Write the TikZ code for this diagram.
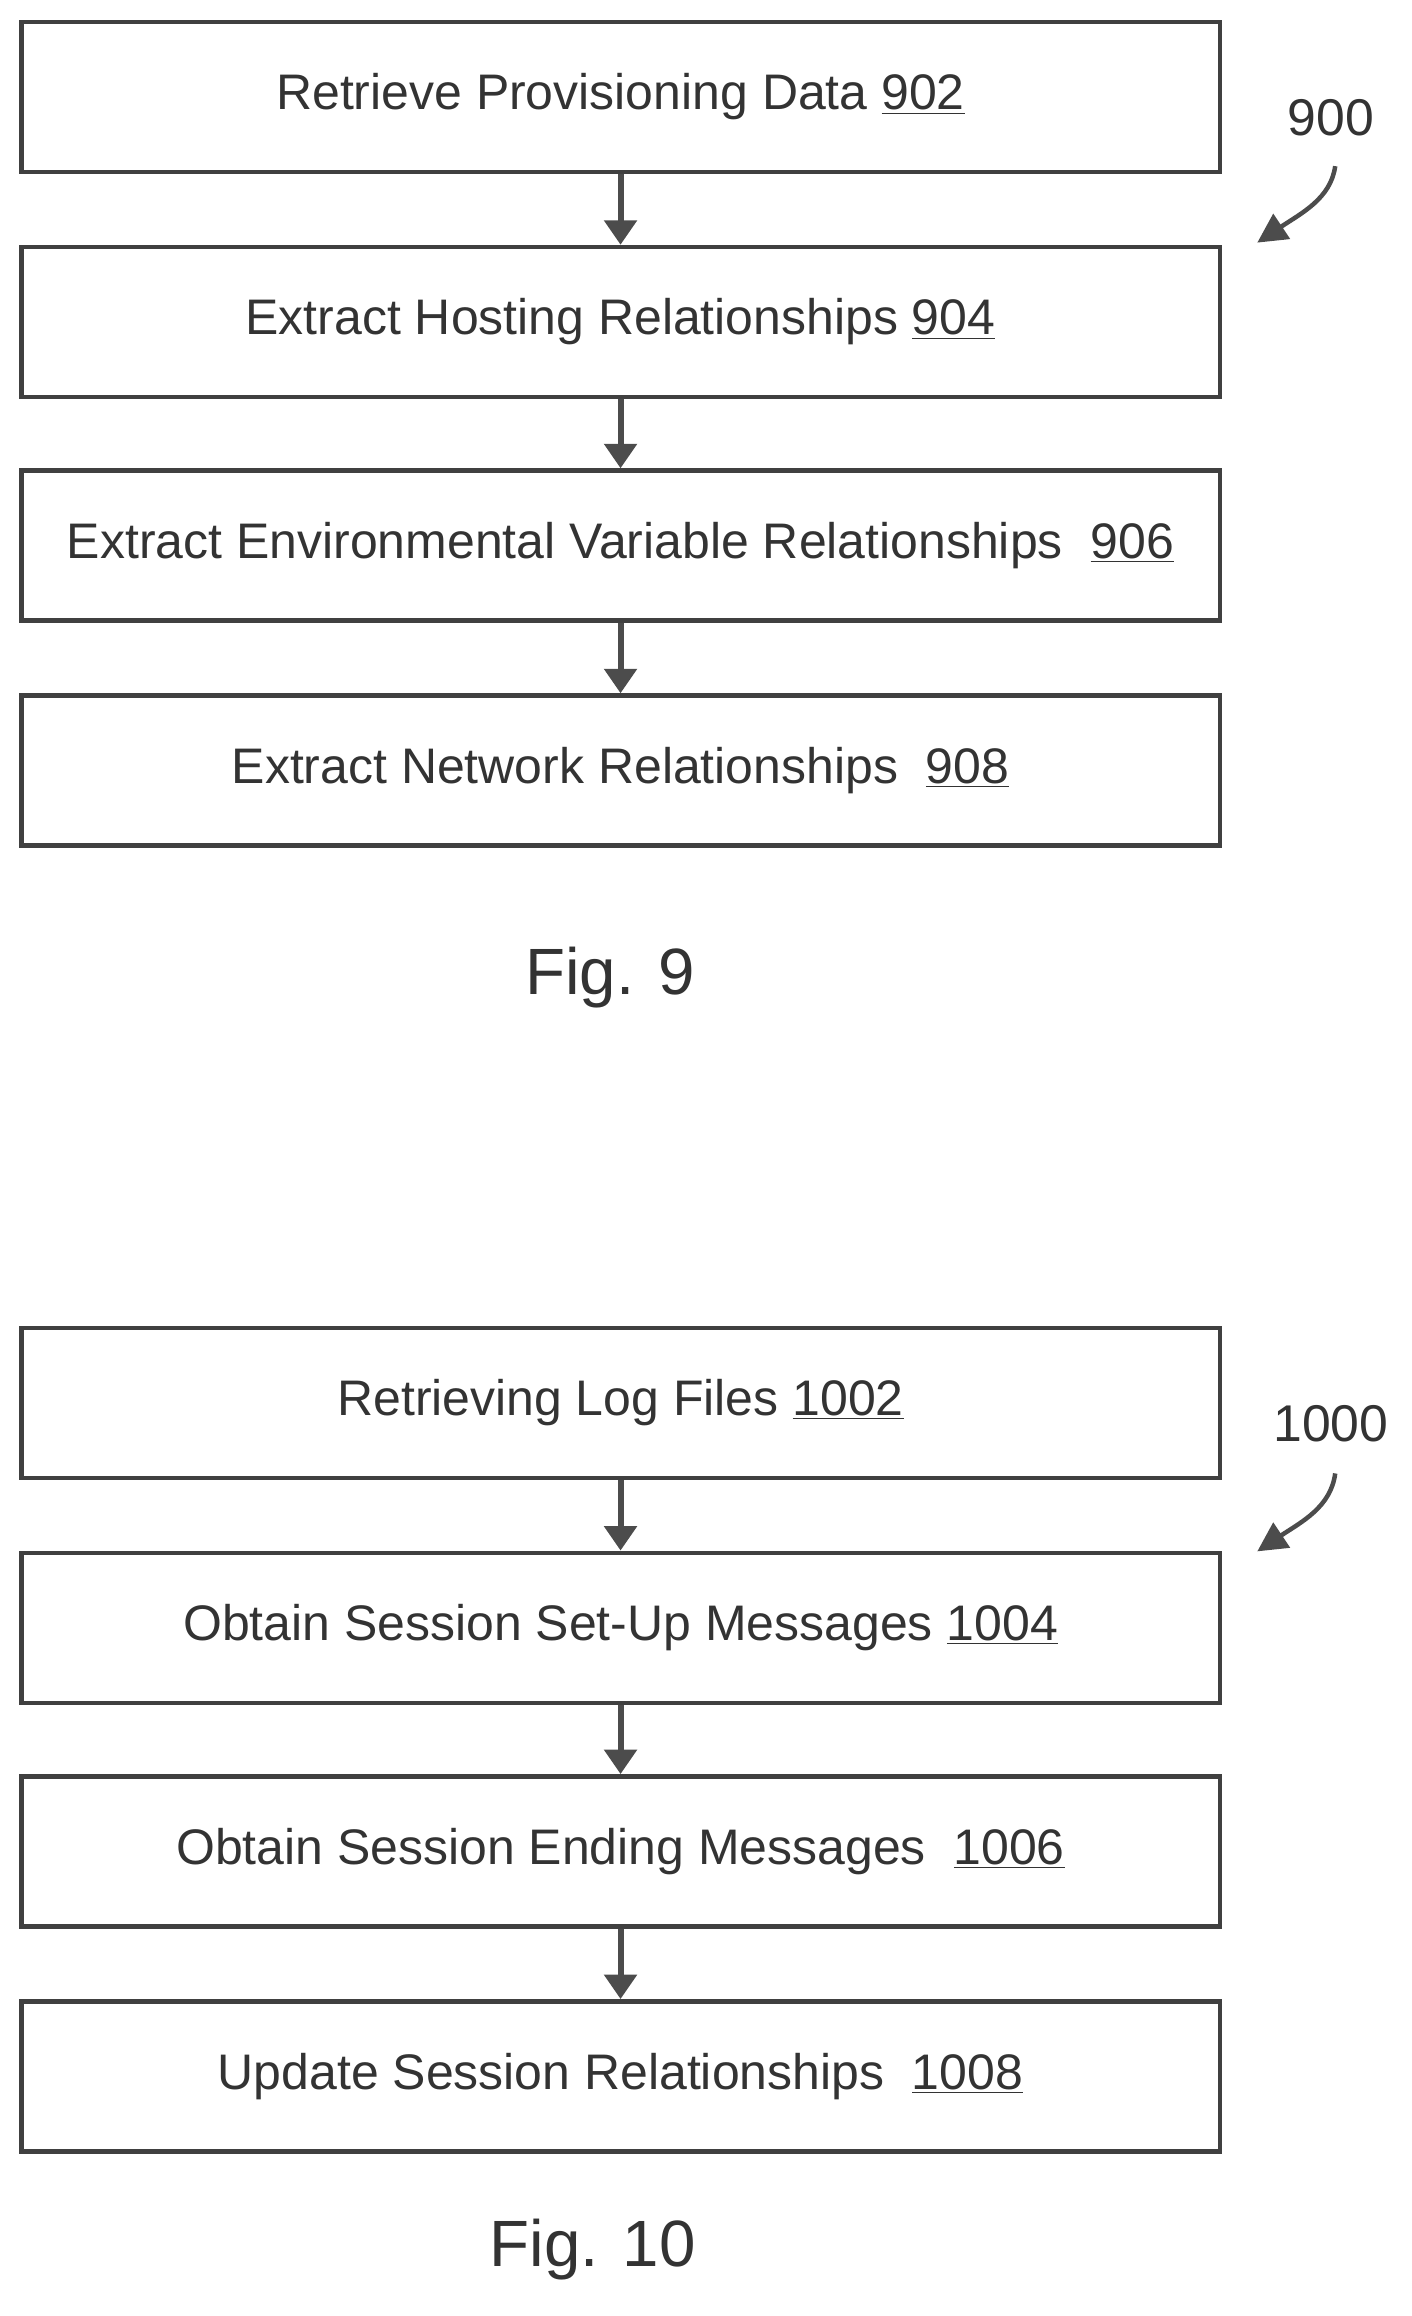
\documentclass[tikz,border=0pt]{standalone}
\usepackage{fontspec}
\setmainfont{Liberation Sans}
\usetikzlibrary{arrows.meta}
\begin{document}
\begin{tikzpicture}[x=0.03cm, y=-0.03cm,
    stage/.style = {draw=black!75, line width=2.6pt, minimum width=24.45cm, minimum height=3.06cm, font=\fontsize{29}{34}\selectfont, text=black!80},
    flow/.style = {line width=3.5pt, draw=black!70, -{Triangle[length=0.5cm,width=0.65cm]}},
    refarrow/.style = {line width=2.6pt, draw=black!70, -{Triangle[length=0.6cm,width=0.6cm]}},
    caption/.style = {font=\fontsize{38}{44}\selectfont, text=black!80},
    ref/.style = {font=\fontsize{30}{36}\selectfont, text=black!80}]
  \useasboundingbox (0,0) rectangle (960,1575);
  % Fig. 9
  \node[stage] (s902) at (422,66) {Retrieve Provisioning Data \underline{902}};
  \node[stage] (s904) at (422,219) {Extract Hosting Relationships \underline{904}};
  \node[stage] (s906) at (422,371) {Extract Environmental Variable Relationships\ \ \underline{906}};
  \node[stage] (s908) at (422,524) {Extract Network Relationships\ \ \underline{908}};
  \draw[flow] (s902) -- (s904);
  \draw[flow] (s904) -- (s906);
  \draw[flow] (s906) -- (s908);
  \node[caption] (fig9) at (415,665) {Fig. 9};
  \node[ref] (l900) at (905,80) {900};
  \coordinate (t900) at (855,165);
  \draw[refarrow] (908,113) .. controls (905,135) and (885,145) .. (t900);
  % Fig. 10
  \node[stage] (s1002) at (422,954) {Retrieving Log Files \underline{1002}};
  \node[stage] (s1004) at (422,1107) {Obtain Session Set-Up Messages \underline{1004}};
  \node[stage] (s1006) at (422,1259) {Obtain Session Ending Messages\ \ \underline{1006}};
  \node[stage] (s1008) at (422,1412) {Update Session Relationships\ \ \underline{1008}};
  \draw[flow] (s1002) -- (s1004);
  \draw[flow] (s1004) -- (s1006);
  \draw[flow] (s1006) -- (s1008);
  \node[caption] (fig10) at (403,1530) {Fig. 10};
  \node[ref] (l1000) at (905,968) {1000};
  \coordinate (t1000) at (855,1055);
  \draw[refarrow] (908,1002) .. controls (905,1025) and (885,1035) .. (t1000);
\end{tikzpicture}
\end{document}
